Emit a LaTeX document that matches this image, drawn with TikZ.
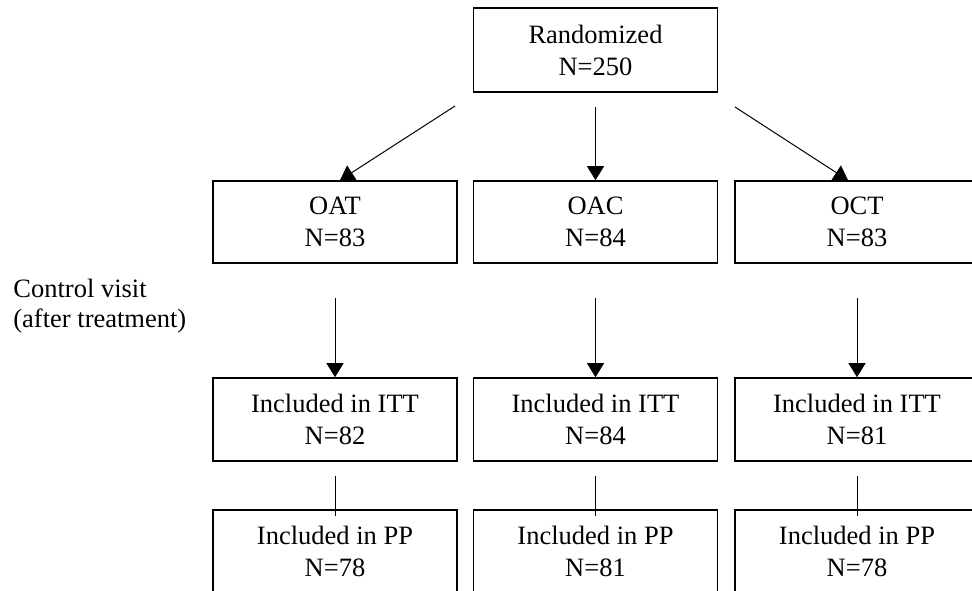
\documentclass[tikz,border=0pt]{standalone}
\usepackage{fontspec}
\setmainfont{Liberation Serif}
\usetikzlibrary{arrows.meta}
\begin{document}
\begin{tikzpicture}[x=0.5pt,y=-0.5pt,
  box/.style={draw=black, line width=0.8pt, minimum width=122pt, inner sep=0pt, align=center, font=\fontsize{13.25pt}{16pt}\selectfont},
  arr/.style={line width=0.5pt, -{Triangle[length=7pt,width=8.5pt]}},
  conn/.style={line width=0.5pt},
  side/.style={inner sep=0pt, align=left, font=\fontsize{13.25pt}{15pt}\selectfont}]
\clip (0,0) rectangle (972,590);
% top
\node[box, minimum height=42pt] (rand) at (595.5,50) {Randomized\\N=250};
% groups
\node[box, minimum height=41pt] (oat) at (335,222) {OAT\\N=83};
\node[box, minimum height=41pt] (oac) at (595.5,222) {OAC\\N=84};
\node[box, minimum height=41pt] (oct) at (857,222) {OCT\\N=83};
% ITT
\node[box, minimum height=41.5pt] (itt1) at (335,419.5) {Included in ITT\\N=82};
\node[box, minimum height=41.5pt] (itt2) at (595.5,419.5) {Included in ITT\\N=84};
\node[box, minimum height=41.5pt] (itt3) at (857,419.5) {Included in ITT\\N=81};
% PP
\node[box, minimum height=41.5pt] (pp1) at (335,551.5) {Included in PP\\N=78};
\node[box, minimum height=41.5pt] (pp2) at (595.5,551.5) {Included in PP\\N=81};
\node[box, minimum height=41.5pt] (pp3) at (857,551.5) {Included in PP\\N=78};
% side label
\node[side, anchor=west] (ctrl) at (13,306.4) {Control visit\\(after treatment)};
% arrow starts
\coordinate (sL) at (455,106);
\coordinate (sC) at (595.5,107);
\coordinate (sR) at (735,107);
\coordinate (v1) at (335,298);
\coordinate (v2) at (595.5,298);
\coordinate (v3) at (857,298);
\coordinate (w1) at (335,476);
\coordinate (w2) at (595.5,476);
\coordinate (w3) at (857,476);
% arrows
\draw[arr] (sL) -- ([xshift=2.5pt]oat.north);
\draw[arr] (sC) -- (oac.north);
\draw[arr] (sR) -- ([xshift=-4.5pt]oct.north);
\draw[arr] (v1) -- (itt1.north);
\draw[arr] (v2) -- (itt2.north);
\draw[arr] (v3) -- (itt3.north);
\draw[conn] (w1) -- ([yshift=-3.5pt]pp1.north);
\draw[conn] (w2) -- ([yshift=-3.5pt]pp2.north);
\draw[conn] (w3) -- ([yshift=-3.5pt]pp3.north);
\end{tikzpicture}
\end{document}
